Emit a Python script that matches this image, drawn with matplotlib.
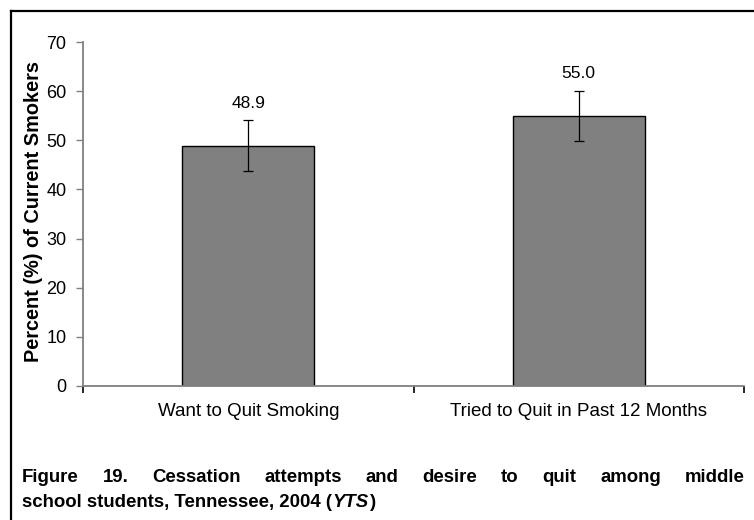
import matplotlib
matplotlib.use('Agg')
import matplotlib.pyplot as plt
from matplotlib.lines import Line2D
import numpy as np

plt.rcParams['font.family'] = ['Liberation Sans', 'DejaVu Sans']

# data
categories = ['Want to Quit Smoking', 'Tried to Quit in Past 12 Months']
percent = [48.9, 55.0]
ci_half = [5.2, 5.1]
yticks = [0, 10, 20, 30, 40, 50, 60, 70]

caption_line1 = 'Figure 19.  Cessation attempts and desire to quit among middle'
caption_line2 = 'school students, Tennessee, 2004 ('

fig = plt.figure(figsize=(7.54, 5.2), dpi=100)
W, H = 754, 520
ax = fig.add_axes([83 / W, 1 - 386 / H, 661 / W, 344 / H])

x = np.arange(len(categories))
ax.bar(x, percent, width=0.4, color='#808080', edgecolor='black', linewidth=1, zorder=2)
ax.errorbar(x, percent, yerr=ci_half, fmt='none', ecolor='black', elinewidth=0.9,
            capsize=3.5, capthick=0.9, zorder=3)

for xi, v, e in zip(x, percent, ci_half):
    ax.annotate('%.1f' % v, (xi, v + e), xytext=(0, 12), textcoords='offset points',
                ha='center', va='center', fontsize=12.5)

ax.set_xlim(-0.5, 1.5)
ax.set_ylim(0, 70)
ax.set_yticks(yticks)
ax.tick_params(axis='y', length=5, width=1, color='#808080', labelsize=13, pad=7)
ax.set_xticks(x)
ax.set_xticklabels(categories, fontsize=13.5)
ax.tick_params(axis='x', length=0, pad=12)
ax.set_xticks([-0.5, 0.5, 1.5], minor=True)
ax.tick_params(axis='x', which='minor', length=5, width=1.2, color='black')

for s in ['top', 'right']:
    ax.spines[s].set_visible(False)
for s in ['left', 'bottom']:
    ax.spines[s].set_color('#808080')
    ax.spines[s].set_linewidth(1.3)

fig.text(34 / W, 1 - 212 / H, 'Percent (%) of Current Smokers', rotation=90,
         ha='center', va='center', fontsize=14.3, fontweight='bold')

# outer frame (left and top edges only, the rest is cut off)
fig.add_artist(Line2D([10.5 / W, 10.5 / W], [0, 1 - 10.5 / H], color='black', lw=1.6,
                      transform=fig.transFigure))
fig.add_artist(Line2D([10.5 / W, 1], [1 - 10.5 / H, 1 - 10.5 / H], color='black', lw=1.6,
                      transform=fig.transFigure))

# justified caption, line 1
fig.canvas.draw()
renderer = fig.canvas.get_renderer()
words = caption_line1.split()
left, right = 22, 745
base1 = 1 - 482 / H
texts = [fig.text(0, base1, w, fontsize=13.4, fontweight='bold', va='baseline') for w in words]
widths = [t.get_window_extent(renderer).width for t in texts]
gap = (right - left - sum(widths)) / (len(words) - 1)
pos = left
for t, wd in zip(texts, widths):
    t.set_x(pos / W)
    pos += wd + gap

# line 2 with italic YTS
base2 = 1 - 507 / H
t1 = fig.text(left / W, base2, caption_line2, fontsize=13.4, fontweight='bold', va='baseline')
w1 = t1.get_window_extent(renderer).width
t2 = fig.text((left + w1) / W, base2, 'YTS', fontsize=13.4, fontweight='bold',
              fontstyle='italic', va='baseline')
w2 = t2.get_window_extent(renderer).width
fig.text((left + w1 + w2 + 2) / W, base2, ')', fontsize=13.4, fontweight='bold', va='baseline')

fig.savefig('out.png', dpi=100)
